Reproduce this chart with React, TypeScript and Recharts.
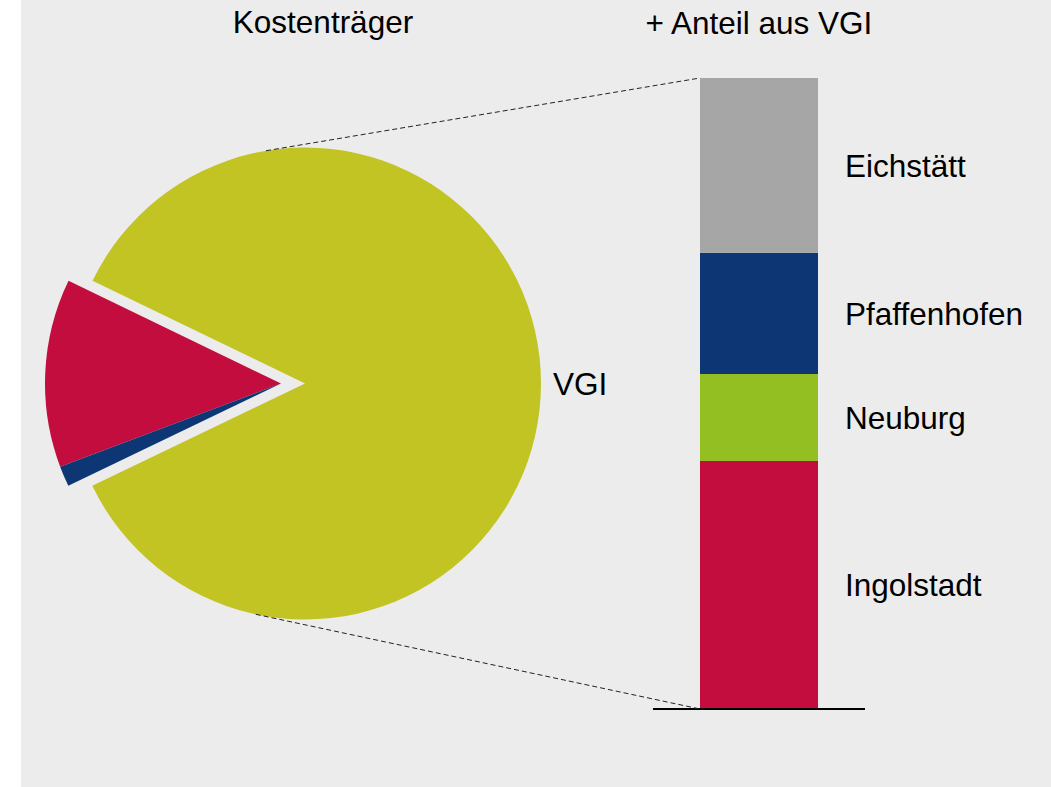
import React from 'react';
import { PieChart, Pie, Cell, BarChart, Bar, XAxis, YAxis, LabelList } from 'recharts';

// ---- data ----
const pieCategories = ['Ingolstadt', 'Pfaffenhofen', 'VGI'];
const pieValues = [12.9, 1.4, 85.7];
const pieColors = ['#c30d3e', '#0d3774', '#c2c424'];
const pieExploded = [true, true, false];

const barSegments = ['Ingolstadt', 'Neuburg', 'Pfaffenhofen', 'Eichstätt'];
const barValues = [39.3, 13.8, 19.2, 27.7];
const barColors = ['#c30d3e', '#93bf23', '#0d3774', '#a6a6a6'];
const barCategory = 'Anteil aus VGI';

const titles = ['Kostenträger', '+ Anteil aus VGI'];

// ---- layout ----
const W = 1051;
const H = 787;
const FONT = '"Liberation Sans", Arial, sans-serif';
const FS = 31.5;

const PIE_CX = 305;
const PIE_CY = 383.5;
const PIE_R = 236;
const EXPLODE = 24;
const START = 154.2;

const X_AXIS_H = 1;
const BAR_MARGIN = { top: 78, right: 186, bottom: 77, left: 653 };
const BAR_SIZE = 118;

const pieData = pieCategories.map((name, i) => ({ name, value: pieValues[i] }));
const barRow: Record<string, any> = { name: barCategory };
barSegments.forEach((s, i) => {
  barRow[s] = barValues[i];
});
const barData = [barRow];

function tangent(px: number, py: number, sign: number) {
  const dx = px - PIE_CX;
  const dy = py - PIE_CY;
  const d = Math.sqrt(dx * dx + dy * dy);
  const a0 = Math.atan2(dy, dx);
  const al = Math.acos(PIE_R / d);
  const t = a0 + sign * al;
  return { x: PIE_CX + PIE_R * Math.cos(t), y: PIE_CY + PIE_R * Math.sin(t) };
}

export default function App() {
  const plotLeft = BAR_MARGIN.left;
  const plotRight = W - BAR_MARGIN.right;
  const barCenter = (plotLeft + plotRight) / 2;
  const barLeft = barCenter - BAR_SIZE / 2;
  const barTop = BAR_MARGIN.top;
  const barBottom = H - BAR_MARGIN.bottom - X_AXIS_H;
  const tTop = tangent(barLeft, barTop, -1);
  const tBot = tangent(barLeft, barBottom, 1);

  const renderVGILabel = (props: any) => {
    const { cx, cy, outerRadius, midAngle, index, name } = props;
    if (pieExploded[index]) return null;
    const rad = (-midAngle * Math.PI) / 180;
    const x = cx + (outerRadius + 12) * Math.cos(rad);
    const y = cy + (outerRadius + 12) * Math.sin(rad);
    return (
      <text x={x} y={y} dy="0.355em" textAnchor="start" fill="#000" fontSize={FS} fontFamily={FONT}>
        {name}
      </text>
    );
  };

  return (
    <div style={{ position: 'absolute', left: 0, top: 0, width: W, height: H, background: '#ffffff', overflow: 'hidden' }}>
      <div style={{ position: 'absolute', left: 21, top: 0, width: W - 21, height: H, background: '#ececec' }} />
      <div style={{ position: 'absolute', left: 0, top: 0 }}>
        <BarChart width={W} height={H} data={barData} margin={BAR_MARGIN}>
          <XAxis
            dataKey="name"
            tick={false}
            tickLine={false}
            height={X_AXIS_H}
            axisLine={{ stroke: '#000', strokeWidth: 2 }}
          />
          <YAxis hide domain={[0, 100]} />
          {barSegments.map((s, i) => (
            <Bar key={s} dataKey={s} stackId="a" fill={barColors[i]} barSize={BAR_SIZE} isAnimationActive={false}>
              <LabelList
                dataKey={s}
                position="right"
                offset={27}
                formatter={() => s}
                fill="#000"
                fontSize={FS}
                fontFamily={FONT}
              />
            </Bar>
          ))}
        </BarChart>
      </div>
      <div style={{ position: 'absolute', left: 0, top: 0 }}>
        <PieChart width={W} height={H} margin={{ top: 0, right: 0, bottom: 0, left: 0 }}>
          <Pie
            data={pieData}
            dataKey="value"
            nameKey="name"
            cx={PIE_CX}
            cy={PIE_CY}
            outerRadius={PIE_R}
            startAngle={START}
            endAngle={START + 360}
            stroke="none"
            label={renderVGILabel}
            labelLine={false}
            isAnimationActive={false}
          >
            {pieData.map((d, i) => (
              <Cell key={d.name} fill={pieExploded[i] ? 'transparent' : pieColors[i]} stroke="none" />
            ))}
          </Pie>
          <Pie
            data={pieData}
            dataKey="value"
            nameKey="name"
            cx={PIE_CX - EXPLODE}
            cy={PIE_CY}
            outerRadius={PIE_R}
            startAngle={START}
            endAngle={START + 360}
            stroke="none"
            isAnimationActive={false}
          >
            {pieData.map((d, i) => (
              <Cell key={d.name} fill={pieExploded[i] ? pieColors[i] : 'transparent'} stroke="none" />
            ))}
          </Pie>
        </PieChart>
      </div>
      <svg width={W} height={H} style={{ position: 'absolute', left: 0, top: 0, pointerEvents: 'none' }}>
        <line x1={tTop.x} y1={tTop.y} x2={barLeft} y2={barTop} stroke="#222" strokeWidth={1} strokeDasharray="5 3" />
        <line x1={tBot.x} y1={tBot.y} x2={barLeft} y2={barBottom} stroke="#222" strokeWidth={1} strokeDasharray="5 3" />
        <text x={323} y={33} textAnchor="middle" fontSize={FS} fontFamily={FONT} fill="#000">
          {titles[0]}
        </text>
        <text x={barCenter} y={34} textAnchor="middle" fontSize={FS} fontFamily={FONT} fill="#000">
          {titles[1]}
        </text>
      </svg>
    </div>
  );
}
